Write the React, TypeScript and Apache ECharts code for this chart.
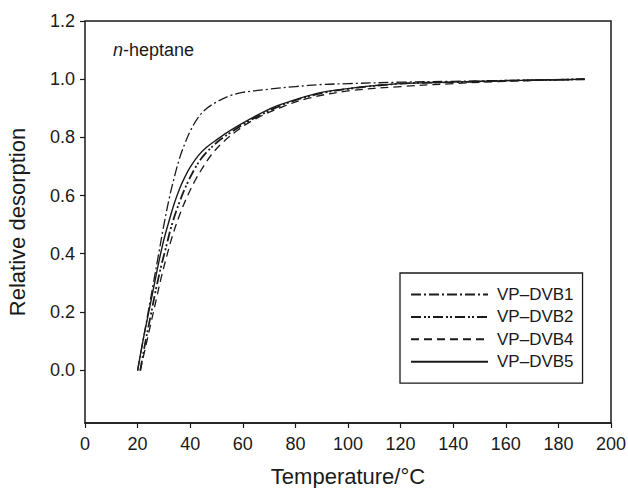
import React, { useEffect, useRef } from "react";
import * as echarts from "echarts";

const FONT = "'Liberation Sans', Arial, Helvetica, sans-serif";

const seriesNames = ["VP–DVB1", "VP–DVB2", "VP–DVB4", "VP–DVB5"];

// [temperature °C, relative desorption]
const dvb1: number[][] = [
  [20, 0], [22, 0.1], [24, 0.2], [26, 0.3], [28, 0.4], [30, 0.5], [32, 0.59],
  [34, 0.665], [36, 0.73], [38, 0.78], [40, 0.822], [43, 0.868], [46, 0.898],
  [50, 0.922], [55, 0.943], [60, 0.955], [70, 0.966], [80, 0.975], [90, 0.982],
  [100, 0.985], [120, 0.99], [140, 0.993], [160, 0.996], [190, 1.0],
];
const dvb2: number[][] = [
  [21, 0], [23, 0.1], [25, 0.19], [27, 0.28], [29, 0.36], [31, 0.43], [33, 0.5],
  [36, 0.58], [39, 0.645], [42, 0.697], [45, 0.737], [50, 0.782], [55, 0.815],
  [62, 0.855], [72, 0.9], [80, 0.928], [90, 0.952], [100, 0.967], [120, 0.985],
  [140, 0.99], [160, 0.995], [190, 1.0],
];
const dvb4: number[][] = [
  [21, 0], [23, 0.08], [25, 0.16], [27, 0.24], [29, 0.32], [31, 0.39], [33, 0.455],
  [36, 0.535], [39, 0.6], [42, 0.655], [45, 0.7], [48, 0.74], [52, 0.78],
  [58, 0.825], [65, 0.865], [75, 0.905], [85, 0.935], [100, 0.96], [120, 0.975],
  [140, 0.985], [160, 0.993], [190, 1.0],
];
const dvb5: number[][] = [
  [20, 0], [22, 0.1], [24, 0.19], [26, 0.28], [28, 0.37], [30, 0.45], [32, 0.515],
  [34, 0.575], [36, 0.625], [38, 0.665], [40, 0.698], [43, 0.737], [46, 0.765],
  [50, 0.792], [55, 0.823], [62, 0.86], [72, 0.905], [80, 0.93], [90, 0.955],
  [100, 0.968], [110, 0.978], [120, 0.985], [140, 0.99], [160, 0.995], [190, 1.0],
];

const xTicks = { min: 0, max: 200, interval: 20 };
const yTicks = { min: 0, max: 1.2, interval: 0.2 };
const yPlotMin = -0.18;

export default function App() {
  const ref = useRef<HTMLDivElement>(null);
  useEffect(() => {
    if (!ref.current) return;
    const chart = echarts.init(ref.current, undefined, { renderer: "svg" });
    const ink = "#1a1a1a";
    const lineTypes: any[] = [
      { type: [10, 3, 2, 3], width: 1.3 },
      { type: [10, 3, 2, 2, 2, 3], width: 1.8 },
      { type: [8, 5], width: 1.3 },
      { type: "solid", width: 1.4 },
    ];
    const datasets = [dvb1, dvb2, dvb4, dvb5];
    chart.setOption({
      animation: false,
      backgroundColor: "#ffffff",
      textStyle: { fontFamily: FONT, color: ink },
      grid: [
        {
          left: 85, top: 21, width: 526, height: 402, outerBoundsMode: "none", containLabel: false,
          show: true, borderColor: ink, borderWidth: 1.5, backgroundColor: "transparent",
        },
        { left: 85, top: 21, width: 526, height: 349, show: false, outerBoundsMode: "none", containLabel: false },
      ],
      xAxis: [
        {
          type: "value", gridIndex: 0, min: xTicks.min, max: xTicks.max, interval: xTicks.interval,
          name: "Temperature/°C", nameLocation: "middle", nameGap: 42,
          nameTextStyle: { fontSize: 22, color: ink, fontFamily: FONT },
          axisLine: { show: true, onZero: false, lineStyle: { color: ink, width: 1.5 } },
          axisTick: { show: true, inside: false, length: 5, lineStyle: { color: ink, width: 1.2 } },
          axisLabel: { fontSize: 18, color: ink, margin: 12, fontFamily: FONT },
          splitLine: { show: false },
        },
        {
          type: "value", gridIndex: 1, min: xTicks.min, max: xTicks.max, show: false,
        },
      ],
      yAxis: [
        {
          type: "value", gridIndex: 0, min: yPlotMin, max: yTicks.max,
          name: "Relative desorption", nameLocation: "middle", nameGap: 57,
          nameTextStyle: { fontSize: 22, color: ink, fontFamily: FONT },
          axisLine: { show: false }, axisTick: { show: false },
          axisLabel: { show: false }, splitLine: { show: false },
        },
        {
          type: "value", gridIndex: 1, min: yTicks.min, max: yTicks.max, interval: yTicks.interval,
          axisLine: { show: false },
          axisTick: { show: true, inside: false, length: 5, lineStyle: { color: ink, width: 1.2 } },
          axisLabel: {
            fontSize: 18, color: ink, margin: 10, fontFamily: FONT,
            formatter: (v: number) => v.toFixed(1),
          },
          splitLine: { show: false },
        },
      ],
      legend: {
        orient: "vertical",
        left: 400, top: 273,
        data: seriesNames,
        borderColor: ink, borderWidth: 1.3,
        padding: [13, 9, 13, 10],
        itemWidth: 77, itemHeight: 14, itemGap: 5.4,
        itemStyle: { color: "transparent", borderWidth: 0, opacity: 0 },
        textStyle: { fontSize: 17, color: ink, fontFamily: FONT, padding: [0, 0, 0, 4] },
        backgroundColor: "#ffffff",
      },
      graphic: [
        {
          type: "text", left: 113, top: 41,
          style: {
            text: "{i|n}-heptane",
            font: `18px ${FONT}`,
            fill: ink,
            rich: { i: { fontStyle: "italic", fontSize: 18, fontFamily: FONT, fill: ink } },
          },
        },
      ],
      series: [
        ...datasets.map((d, i) => ({
          name: seriesNames[i],
          type: "line",
          xAxisIndex: 0, yAxisIndex: 0,
          data: d,
          smooth: 0.35,
          symbol: "none",
          color: ink,
          lineStyle: { color: ink, ...lineTypes[i] },
        })),
        { type: "line", xAxisIndex: 1, yAxisIndex: 1, data: [], symbol: "none" },
      ],
    });
    return () => chart.dispose();
  }, []);
  return (
    <div
      ref={ref}
      style={{ position: "fixed", left: 0, top: 0, width: 628, height: 488, background: "#fff" }}
    />
  );
}
